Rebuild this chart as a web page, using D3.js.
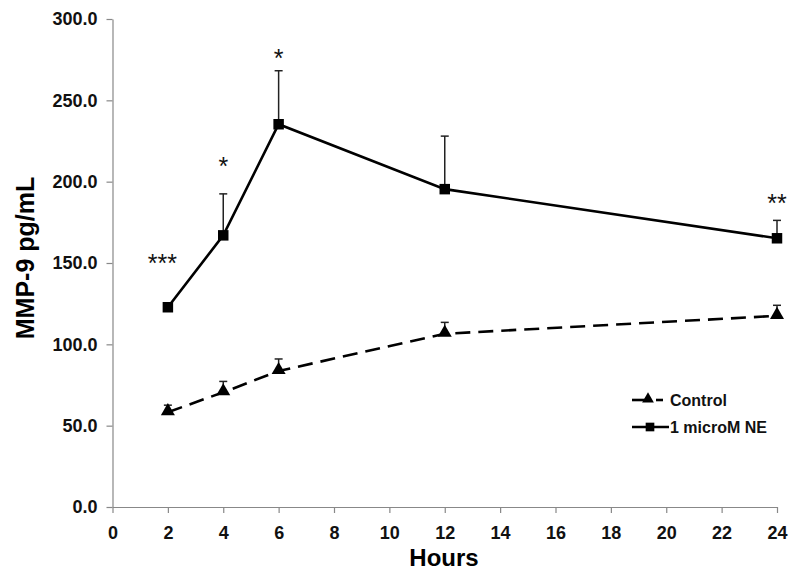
<!DOCTYPE html>
<html><head><meta charset="utf-8">
<script src="https://cdn.jsdelivr.net/npm/d3@7"></script>
<style>body{margin:0;background:#fff}svg{display:block}</style>
</head><body>
<svg id="c" width="800" height="576"></svg>
<script>
const hours = [2, 4, 6, 12, 24];
const controlMean = [58.3, 70.5, 83.6, 106.5, 117.5];
const controlErr  = [62.6, 77.2, 91.0, 113.5, 124.0];
const neMean = [122.8, 167.0, 235.3, 195.4, 165.2];
const neErr  = [122.8, 192.5, 268.2, 228.0, 176.2];
const sigLabels = ["***", "*", "*", null, "**"];
const sigHours  = [1.8, 4, 6, null, 24];
const sigValues = [153, 213, 279, null, 190];
const xTicks = d3.range(0, 26, 2);
const yTicks = [0, 50, 100, 150, 200, 250, 300];
const seriesNames = ["Control", "1 microM NE"];

const svg = d3.select("#c");
const font = "'Liberation Sans', Arial, sans-serif";
const x = d3.scaleLinear().domain([0, 24]).range([112.5, 777]);
const y = d3.scaleLinear().domain([0, 300]).range([507, 19]);

// axes
const xAxis = svg.append("g").attr("transform", `translate(0,${y(0)})`)
  .call(d3.axisBottom(x).tickValues(xTicks).tickSize(6).tickSizeOuter(0).tickPadding(13));
const yAxis = svg.append("g").attr("transform", `translate(${x(0)},0)`)
  .call(d3.axisLeft(y).tickValues(yTicks).tickFormat(d3.format(".1f")).tickSize(6).tickSizeOuter(0).tickPadding(9));
[xAxis, yAxis].forEach(a => {
  a.select(".domain").attr("stroke", "#888").attr("stroke-width", 1.2);
  a.selectAll(".tick line").attr("stroke", "#888").attr("stroke-width", 1.2);
  a.selectAll("text").attr("font-family", font).attr("font-weight", "bold")
    .attr("font-size", 18).attr("fill", "#111");
});

// axis titles
svg.append("text").attr("x", 444).attr("y", 566).attr("text-anchor", "middle")
  .attr("font-family", font).attr("font-weight", "bold").attr("font-size", 24).text("Hours");
svg.append("text").attr("transform", "translate(34,258) rotate(-90)").attr("text-anchor", "middle")
  .attr("font-family", font).attr("font-weight", "bold").attr("font-size", 25).text("MMP-9 pg/mL");

const line = d3.line().x(d => x(d[0])).y(d => y(d[1]));
const ctrl = hours.map((h, i) => [h, controlMean[i], controlErr[i]]);
const ne = hours.map((h, i) => [h, neMean[i], neErr[i]]);

// error bars
function errBars(data) {
  const g = svg.append("g").attr("stroke", "#222").attr("stroke-width", 1.5);
  data.forEach(d => {
    g.append("line").attr("x1", x(d[0])).attr("x2", x(d[0])).attr("y1", y(d[1])).attr("y2", y(d[2]));
    g.append("line").attr("x1", x(d[0]) - 4).attr("x2", x(d[0]) + 4).attr("y1", y(d[2])).attr("y2", y(d[2]));
  });
}
errBars(ctrl); errBars(ne);

svg.append("path").datum(ctrl).attr("d", line).attr("fill", "none").attr("stroke", "#000")
  .attr("stroke-width", 2.6).attr("stroke-dasharray", "15,8");
svg.append("path").datum(ne).attr("d", line).attr("fill", "none").attr("stroke", "#000")
  .attr("stroke-width", 2.6);

const tri = d3.symbol().type(d3.symbolTriangle).size(85);
const sq = d3.symbol().type(d3.symbolSquare).size(110);
svg.append("g").selectAll("path").data(ctrl).join("path")
  .attr("transform", d => `translate(${x(d[0])},${y(d[1]) - 1})`).attr("d", tri).attr("fill", "#000");
svg.append("g").selectAll("path").data(ne).join("path")
  .attr("transform", d => `translate(${x(d[0])},${y(d[1])})`).attr("d", sq).attr("fill", "#000");

// significance labels
sigLabels.forEach((s, i) => {
  if (!s) return;
  svg.append("text").attr("x", x(sigHours[i])).attr("y", y(sigValues[i]) + 14)
    .attr("text-anchor", "middle").attr("font-family", font).attr("font-size", 25)
    .attr("fill", "#111").text(s);
});

// legend
const lg = svg.append("g");
const ly = [400, 427];
lg.append("line").attr("x1", 632).attr("x2", 645).attr("y1", ly[0]).attr("y2", ly[0]).attr("stroke", "#000").attr("stroke-width", 2.6);
lg.append("line").attr("x1", 656).attr("x2", 663).attr("y1", ly[0]).attr("y2", ly[0]).attr("stroke", "#000").attr("stroke-width", 2.6);
lg.append("path").attr("transform", `translate(648,${ly[0] - 1})`).attr("d", d3.symbol().type(d3.symbolTriangle).size(60)).attr("fill", "#000");
lg.append("line").attr("x1", 632).attr("x2", 669).attr("y1", ly[1]).attr("y2", ly[1]).attr("stroke", "#000").attr("stroke-width", 2.6);
lg.append("path").attr("transform", `translate(650,${ly[1]})`).attr("d", d3.symbol().type(d3.symbolSquare).size(75)).attr("fill", "#000");
seriesNames.forEach((n, i) => {
  lg.append("text").attr("x", 670).attr("y", ly[i] + 6).attr("font-family", font)
    .attr("font-weight", "bold").attr("font-size", 16).attr("fill", "#111").text(n);
});
</script>
</body></html>
